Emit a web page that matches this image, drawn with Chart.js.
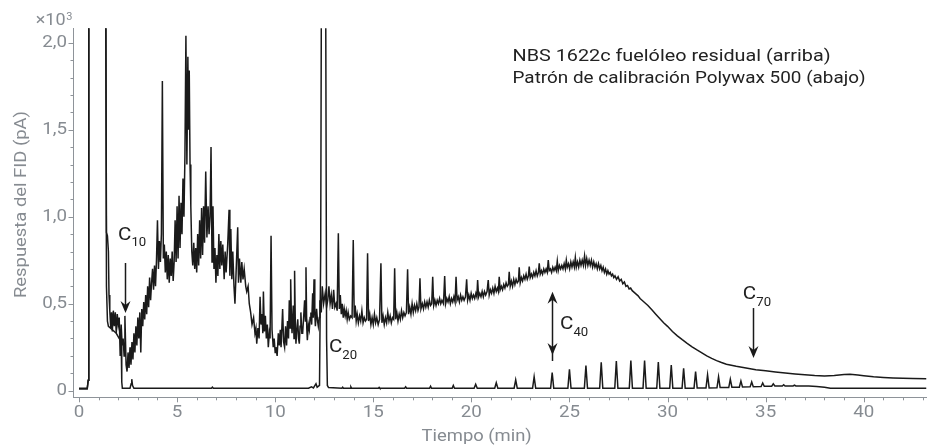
<!DOCTYPE html>
<html>
<head>
<meta charset="utf-8">
<script src="https://cdn.jsdelivr.net/npm/chart.js@4.4.1/dist/chart.umd.min.js"></script>
<style>
  html, body { margin: 0; padding: 0; background: #ffffff; }
  #wrap { width: 930px; height: 448px; position: relative; }
</style>
</head>
<body>
<div id="wrap"><canvas id="c" width="930" height="448"></canvas></div>
<script>
// ---------------- DATA (time in min, response in pA x10^3) ----------------
const xTickValues = [0, 5, 10, 15, 20, 25, 30, 35, 40];
const yTickValues = [0, 0.5, 1.0, 1.5, 2.0];

// Upper trace: NBS 1622c residual fuel oil
const upperSolventAndEarly = [
  [0,0.01],[0.42,0.01],[0.47,0.06],[0.5,2.5],[1.36,2.5],[1.4,0.91],[1.45,0.89],[1.5,0.8],[1.53,0.55],[1.57,0.46],
  [1.62,0.36],[1.66,0.45],[1.7,0.34],[1.75,0.46],[1.8,0.37],[1.85,0.45],[1.9,0.33],[1.95,0.44],[2.0,0.38],[2.05,0.42],
  [2.1,0.2],[2.15,0.38],[2.2,0.26],[2.25,0.3],[2.3,0.2],[2.34,0.43],[2.4,0.15],[2.45,0.11],[2.5,0.22],[2.55,0.13],
  [2.6,0.25],[2.65,0.15],[2.7,0.28],[2.75,0.18],[2.8,0.33],[2.85,0.22],[2.9,0.37],[2.95,0.26],[3.0,0.42],[3.05,0.3],
  [3.1,0.45],[3.15,0.22],[3.2,0.47],[3.25,0.37],[3.3,0.51],[3.35,0.41],[3.4,0.55],[3.45,0.44],[3.5,0.6],[3.55,0.48],
  [3.6,0.65],[3.65,0.52],[3.7,0.62],[3.75,0.7],[3.8,0.58],[3.85,0.72],[3.9,0.6],[3.95,0.75],[4.0,0.98],[4.05,0.7],
  [4.1,0.86],[4.15,0.74],[4.2,0.9]
];
const upperHump1 = [
  [4.25,1.78],[4.3,0.76],[4.35,0.84],[4.4,0.68],[4.45,0.8],[4.5,0.64],[4.55,0.78],[4.6,0.62],[4.65,0.76],[4.7,0.66],
  [4.75,0.8],[4.8,0.63],[4.85,0.74],[4.9,0.98],[4.95,0.74],[5.0,1.06],[5.05,0.76],[5.1,1.12],[5.15,0.82],[5.2,1.08],
  [5.25,0.9],[5.3,1.22],[5.35,1.0],[5.4,1.35],[5.45,2.04],[5.5,1.3],[5.55,1.92],[5.58,1.5],[5.62,1.84],[5.66,1.3],
  [5.7,1.06],[5.75,0.8],[5.8,0.72],[5.85,0.85],[5.9,0.7],[5.95,0.82],[6.0,0.68],[6.05,0.9],[6.1,0.72],[6.15,0.98],
  [6.2,0.76],[6.25,1.05],[6.3,0.78],[6.35,1.06],[6.4,0.85],[6.46,1.26],[6.52,0.88],[6.58,1.06],[6.63,0.9],[6.68,1.0],
  [6.73,1.4],[6.78,0.74],[6.83,1.06],[6.88,0.7],[6.93,0.82],[6.98,0.62],[7.03,0.78],[7.08,0.66],[7.13,0.9],[7.18,0.7],
  [7.23,0.86],[7.28,0.72],[7.33,0.84],[7.4,0.64],[7.45,0.8],[7.5,0.68],[7.58,0.84],[7.65,1.04],[7.69,0.66],[7.74,0.93],
  [7.79,0.64],[7.84,0.8],[7.9,0.6],[7.95,0.5],[8.03,0.75],[8.09,0.94],[8.13,0.62],[8.18,0.76],[8.25,0.62],[8.3,0.74],
  [8.36,0.64],[8.42,0.7],[8.5,0.6]
];
const upperValley = [
  [8.55,0.57],[8.62,0.6],[8.68,0.5],[8.75,0.45],[8.82,0.38],[8.9,0.42],[8.97,0.33],[9.02,0.36],[9.06,0.27],[9.12,0.36],
  [9.18,0.3],[9.23,0.54],[9.28,0.38],[9.33,0.44],[9.37,0.33],[9.4,0.57],[9.45,0.34],[9.5,0.43],[9.55,0.3],[9.6,0.38],
  [9.65,0.25],[9.7,0.33],[9.74,0.3],[9.79,0.89],[9.84,0.35],[9.9,0.25],[9.95,0.3],[10.0,0.22],[10.04,0.25],[10.1,0.2],
  [10.16,0.33],[10.21,0.26],[10.26,0.35],[10.3,0.25],[10.38,0.47],[10.43,0.28],[10.48,0.25],[10.53,0.37],[10.58,0.26],[10.63,0.4],
  [10.68,0.3],[10.72,0.52],[10.76,0.36],[10.79,0.64],[10.83,0.4],[10.86,0.33],[10.92,0.49],[10.96,0.3],[10.99,0.69],[11.03,0.36],
  [11.06,0.27],[11.1,0.35],[11.15,0.41],[11.19,0.3],[11.23,0.27],[11.27,0.37],[11.31,0.45],[11.36,0.33],[11.4,0.33],[11.45,0.42],
  [11.5,0.52],[11.54,0.4],[11.57,0.71],[11.61,0.36],[11.64,0.29],[11.69,0.38],[11.74,0.35],[11.78,0.42],[11.82,0.45],[11.86,0.38],
  [11.91,0.56],[11.94,0.42],[11.98,0.64],[12.02,0.44],[12.05,0.37],[12.11,0.47],[12.16,0.4],[12.2,0.37],[12.25,0.42],[12.28,0.52],
  [12.35,0.45],[12.4,0.6],[12.47,0.5]
];
const upperAlkanes = [
  [12.55,0.56],[12.62,0.48],[12.68,0.52],[12.74,0.6],[12.8,0.5],[12.86,0.55],[12.92,0.47],[12.98,0.58],[13.04,0.48],[13.1,0.5],
  [13.16,0.46],[13.22,0.905],[13.27,0.47],[13.32,0.55],[13.37,0.44],[13.42,0.5],[13.47,0.42],[13.52,0.47],[13.57,0.43],[13.62,0.46],
  [13.67,0.41],[13.72,0.45],[13.78,0.41],[13.85,0.43],[13.92,0.42],[13.98,0.866],[14.03,0.42],[14.08,0.49],[14.13,0.4],[14.18,0.44],
  [14.24,0.39],[14.3,0.43],[14.36,0.4],[14.42,0.46],[14.48,0.39],[14.54,0.42],[14.6,0.4],[14.66,0.41],[14.71,0.79],[14.76,0.4],
  [14.82,0.44],[14.88,0.38],[14.94,0.42],[15.0,0.38],[15.06,0.44],[15.12,0.39],[15.18,0.42],[15.25,0.38],[15.32,0.41],[15.39,0.732],
  [15.44,0.39],[15.5,0.43],[15.56,0.38],[15.62,0.42],[15.68,0.39],[15.74,0.45],[15.8,0.4],[15.86,0.43],[15.92,0.39],[15.98,0.42],
  [16.04,0.41],[16.09,0.703],[16.14,0.41],[16.2,0.45],[16.26,0.4],[16.32,0.44],[16.38,0.41],[16.44,0.46],[16.5,0.42],[16.56,0.45],
  [16.62,0.43],[16.69,0.45],[16.75,0.698],[16.8,0.44],[16.86,0.48],[16.92,0.44],[16.98,0.5],[17.04,0.45],[17.1,0.49],[17.16,0.46],
  [17.22,0.5],[17.28,0.46],[17.33,0.48],[17.38,0.646],[17.43,0.47],[17.5,0.5],[17.56,0.47],[17.62,0.51],[17.68,0.48],[17.74,0.51],
  [17.8,0.48],[17.86,0.52],[17.92,0.49],[17.98,0.5],[18.03,0.655],[18.08,0.49],[18.14,0.52],[18.2,0.49],[18.26,0.52],[18.32,0.5],
  [18.38,0.53],[18.44,0.5],[18.5,0.52],[18.58,0.5],[18.64,0.659],[18.69,0.5],[18.75,0.53],[18.81,0.51],[18.87,0.54],[18.93,0.5],
  [18.99,0.53],[19.05,0.51],[19.11,0.54],[19.17,0.51],[19.22,0.655],[19.27,0.52],[19.33,0.54],[19.39,0.51],[19.45,0.55],[19.51,0.52],
  [19.57,0.54],[19.63,0.52],[19.7,0.54],[19.76,0.64],[19.81,0.52],[19.87,0.55],[19.93,0.52],[19.99,0.56],[20.05,0.53],[20.11,0.55],
  [20.17,0.53],[20.23,0.56],[20.28,0.54],[20.32,0.636],[20.37,0.54],[20.43,0.56],[20.49,0.54],[20.55,0.57],[20.61,0.54],[20.67,0.57],
  [20.73,0.55],[20.8,0.57],[20.86,0.636],[20.91,0.55],[20.97,0.58],[21.03,0.56],[21.09,0.59],[21.15,0.56],[21.21,0.6],[21.27,0.57],
  [21.33,0.59],[21.38,0.57],[21.42,0.655],[21.47,0.58],[21.53,0.6],[21.59,0.58],[21.65,0.61],[21.71,0.59],[21.77,0.62],[21.83,0.6],
  [21.89,0.61],[21.93,0.684],[21.98,0.6],[22.04,0.63],[22.1,0.6],[22.16,0.64],[22.22,0.61],[22.28,0.64],[22.34,0.62],[22.4,0.63],
  [22.44,0.709],[22.49,0.62],[22.55,0.65],[22.61,0.63],[22.67,0.66],[22.73,0.64],[22.79,0.67],[22.85,0.64],[22.91,0.66],[22.95,0.713],
  [23.0,0.65],[23.06,0.67],[23.12,0.65],[23.18,0.68],[23.24,0.66],[23.3,0.69],[23.36,0.66],[23.42,0.68],[23.46,0.732],[23.51,0.67],
  [23.57,0.69],[23.63,0.67],[23.69,0.7],[23.75,0.68],[23.81,0.7],[23.87,0.68],[23.92,0.751]
];
const upperUCM = [
  [23.97,0.69],[24.03,0.7],[24.09,0.68],[24.15,0.71],[24.21,0.69],[24.27,0.71],[24.33,0.69],[24.38,0.745],[24.43,0.69],[24.49,0.72],
  [24.55,0.7],[24.61,0.72],[24.67,0.7],[24.73,0.73],[24.79,0.7],[24.84,0.75],[24.89,0.71],[24.95,0.73],[25.01,0.7],[25.07,0.74],
  [25.13,0.71],[25.19,0.74],[25.25,0.71],[25.3,0.765],[25.35,0.71],[25.41,0.74],[25.47,0.71],[25.53,0.75],[25.59,0.72],[25.65,0.75],
  [25.71,0.72],[25.77,0.775],[25.82,0.72],[25.88,0.76],[25.94,0.72],[26.0,0.75],[26.06,0.72],[26.12,0.75],[26.18,0.71],[26.24,0.74],
  [26.3,0.71],[26.36,0.73],[26.42,0.7],[26.48,0.73],[26.54,0.7],[26.6,0.72],[26.66,0.69],[26.72,0.71],[26.78,0.68],[26.84,0.7],
  [26.9,0.67],[26.96,0.69],[27.02,0.67],[27.08,0.68],[27.14,0.66],[27.2,0.67],[27.26,0.65],[27.32,0.66],[27.4,0.64],[27.48,0.655],
  [27.56,0.63],[27.64,0.64],[27.72,0.615],[27.8,0.625],[27.88,0.6],[27.96,0.605],[28.04,0.585],[28.12,0.59],[28.2,0.575],[28.3,0.565],
  [28.4,0.555],[28.5,0.545],[28.6,0.53],[28.7,0.52],[28.8,0.51],[28.9,0.5],[29.0,0.49],[29.2,0.465],[29.4,0.44],[29.6,0.415],
  [29.8,0.39],[30.0,0.37],[30.25,0.34],[30.5,0.315],[30.75,0.293],[31.0,0.272],[31.25,0.252],[31.5,0.234],[31.75,0.217],[32.0,0.2],
  [32.25,0.186],[32.5,0.173],[32.75,0.162],[33.0,0.152],[33.5,0.14],[34.0,0.13],[34.5,0.121],[35.0,0.114],[35.5,0.108],[36.0,0.102],
  [36.5,0.096],[37.0,0.091],[37.5,0.087],[38.0,0.085],[38.5,0.087],[39.0,0.093],[39.3,0.095],[39.7,0.09],[40.0,0.086],[40.5,0.08],
  [41.0,0.076],[41.5,0.073],[42.0,0.071],[42.5,0.07],[43.2,0.069]
];

// Lower trace: Polywax 500 calibration standard
const lowerSolvent = [
  [0,0.014],[0.42,0.014],[0.47,0.06],[0.5,2.5],[1.36,2.5],[1.4,0.6],[1.45,0.4],[1.5,0.37],[1.7,0.35],[1.9,0.33],
  [2.05,0.3],[2.15,0.29],[2.18,0.05],[2.21,0.014],[2.6,0.014],[2.66,0.04],[2.69,0.066],[2.73,0.03],[2.8,0.014]
];
const lowerLight = [
  [6.75,0.014],[6.8,0.02],[6.85,0.014],[11.7,0.014],[11.85,0.022],[11.95,0.016],[12.08,0.04],[12.14,0.02],[12.26,0.03],[12.32,0.8],
  [12.36,2.5],[12.57,2.5],[12.62,0.3],[12.66,0.03],[12.72,0.018],[13.4,0.014],[13.44,0.02],[13.48,0.014],[13.82,0.014],[13.86,0.022],
  [13.9,0.014],[15.26,0.014],[15.3,0.019],[15.34,0.014],[16.6,0.014],[16.65,0.022],[16.7,0.014],[17.87,0.014],[17.92,0.026],[17.97,0.014],
  [19.02,0.014],[19.08,0.03],[19.14,0.014]
];
const lowerPolywax = [
  [20.14,0.014],[20.22,0.037],[20.3,0.014],[21.19,0.014],[21.27,0.046],[21.35,0.014],[22.18,0.014],[22.26,0.062],[22.34,0.014],
  [23.12,0.014],[23.2,0.08],[23.28,0.014],[24.04,0.014],[24.12,0.104],[24.2,0.014],[24.92,0.014],[25.0,0.123],[25.08,0.014],
  [25.76,0.014],[25.84,0.144],[25.92,0.014],[26.54,0.014],[26.62,0.163],[26.7,0.014],[27.31,0.014],[27.39,0.171],[27.47,0.014],
  [28.05,0.014],[28.13,0.173],[28.21,0.014],[28.75,0.014],[28.83,0.173],[28.91,0.014],[29.45,0.014],[29.53,0.165],[29.61,0.014],
  [30.11,0.014],[30.19,0.148],[30.27,0.014],[30.74,0.014],[30.82,0.129],[30.9,0.014],[31.35,0.014],[31.43,0.11],[31.51,0.016],
  [31.96,0.016],[32.04,0.091],[32.12,0.016],[32.52,0.017],[32.6,0.08],[32.68,0.018],[33.12,0.018],[33.2,0.066],[33.28,0.02],
  [33.66,0.02],[33.74,0.056],[33.82,0.021],[34.21,0.022],[34.29,0.05],[34.37,0.023],[34.77,0.024],[34.85,0.044],[34.93,0.025],
  [35.31,0.026],[35.39,0.039],[35.47,0.027],[35.85,0.027],[35.92,0.034],[35.99,0.027],[36.4,0.027],[36.47,0.032],[36.54,0.027],
  [37.2,0.027],[37.6,0.024],[38.0,0.02],[38.3,0.014],[43.2,0.014]
];

// Annotation labels (carbon numbers) and arrows, in data units
const carbonLabels = [
  { n: '10', x: 1.99, y: 0.895 },
  { n: '20', x: 12.74, y: 0.248 },
  { n: '40', x: 24.52, y: 0.38 },
  { n: '70', x: 33.84, y: 0.553 }
];
const carbonArrows = [
  { x: 2.34, from: 0.734, to: 0.447, both: false },
  { x: 24.12, from: 0.205, to: 0.569, both: true },
  { x: 34.34, from: 0.475, to: 0.188, both: false }
];
const legendLines = [
  'NBS 1622c fuelóleo residual (arriba)',
  'Patrón de calibración Polywax 500 (abajo)'
];
const legendAnchor = { x: 22.1, y: 1.92, y2: 1.79 };
const xTitle = 'Tiempo (min)';
const yTitle = 'Respuesta del FID (pA)';

// ---------------- CHART ----------------
const GREY = '#868b91';
const AXIS = '#8e9399';
const INK = '#1a1a1a';
const FONT = 'Roboto';
const toXY = arr => arr.map(p => ({ x: p[0], y: p[1] }));

const upperAll = [].concat(upperSolventAndEarly, upperHump1, upperValley, upperAlkanes, upperUCM);
const lowerAll = [].concat(lowerSolvent, lowerLight, lowerPolywax);

// draw text horizontally widened (the reference typeface runs wide)
function wideText(ctx, text, x, y, sx, align, rot) {
  ctx.save();
  ctx.translate(x, y);
  if (rot) ctx.rotate(rot);
  ctx.scale(sx, 1);
  ctx.textAlign = align;
  ctx.fillText(text, 0, 0);
  ctx.restore();
}

const axisDecor = {
  id: 'axisDecor',
  afterDraw(chart) {
    const { ctx, chartArea, scales } = chart;
    ctx.save();
    ctx.strokeStyle = AXIS;
    ctx.lineWidth = 1;
    ctx.beginPath();
    for (let t = 0; t <= 43; t++) {
      const px = Math.round(scales.x.getPixelForValue(t)) + 0.5;
      const len = t % 5 === 0 ? 5 : 3;
      ctx.moveTo(px, chartArea.bottom);
      ctx.lineTo(px, chartArea.bottom + len);
    }
    for (let k = 0; k <= 20; k++) {
      const py = Math.round(scales.y.getPixelForValue(k / 10)) + 0.5;
      const len = k % 5 === 0 ? 5 : 3;
      ctx.moveTo(chartArea.left, py);
      ctx.lineTo(chartArea.left - len, py);
    }
    ctx.stroke();

    ctx.fillStyle = GREY;
    ctx.textBaseline = 'middle';
    ctx.font = '16px ' + FONT;
    xTickValues.forEach(v => {
      wideText(ctx, String(v), scales.x.getPixelForValue(v), chartArea.bottom + 16, 1.17, 'center');
    });
    yTickValues.forEach(v => {
      const lab = v === 0 ? '0' : v.toFixed(1).replace('.', ',');
      wideText(ctx, lab, chartArea.left - 6.5, scales.y.getPixelForValue(v), 1.17, 'right');
    });
    // axis titles
    wideText(ctx, xTitle, scales.x.getPixelForValue(20.27), chartArea.bottom + 39.5, 1.15, 'center');
    wideText(ctx, yTitle, 21.7, scales.y.getPixelForValue(1.07), 1.15, 'center', -Math.PI / 2);
    // multiplier
    ctx.textBaseline = 'alphabetic';
    ctx.font = '10px ' + FONT;
    wideText(ctx, '3', chartArea.left - 1, chartArea.top - 8, 1.1, 'right');
    ctx.font = '16px ' + FONT;
    wideText(ctx, '×10', chartArea.left - 8, chartArea.top - 3, 1.12, 'right');
    ctx.restore();
  }
};

const annotations = {
  id: 'annotations',
  afterDatasetsDraw(chart) {
    const { ctx, scales } = chart;
    const X = v => scales.x.getPixelForValue(v);
    const Y = v => scales.y.getPixelForValue(v);
    ctx.save();
    ctx.fillStyle = '#222222';
    ctx.strokeStyle = INK;
    ctx.textBaseline = 'middle';
    // legend text
    ctx.font = '16.5px ' + FONT;
    wideText(ctx, legendLines[0], X(legendAnchor.x), Y(legendAnchor.y), 1.2, 'left');
    wideText(ctx, legendLines[1], X(legendAnchor.x), Y(legendAnchor.y2), 1.145, 'left');
    // carbon labels
    carbonLabels.forEach(l => {
      const x = X(l.x), y = Y(l.y);
      ctx.font = '19px ' + FONT;
      wideText(ctx, 'C', x, y, 1.08, 'left');
      const w = ctx.measureText('C').width * 1.08;
      ctx.font = '12px ' + FONT;
      wideText(ctx, l.n, x + w, y + 8.5, 1.1, 'left');
    });
    // arrows
    const head = (x, yTip, dir) => {
      ctx.beginPath();
      ctx.moveTo(x, yTip);
      ctx.lineTo(x - 5, yTip - dir * 12);
      ctx.lineTo(x, yTip - dir * 8);
      ctx.lineTo(x + 5, yTip - dir * 12);
      ctx.closePath();
      ctx.fill();
    };
    ctx.fillStyle = INK;
    ctx.lineWidth = 1.5;
    carbonArrows.forEach(a => {
      const x = Math.round(X(a.x)) + 0.5;
      const y1 = Y(a.from), y2 = Y(a.to);
      const dir = y2 > y1 ? 1 : -1;
      ctx.beginPath();
      ctx.moveTo(x, y1 + (a.both ? -dir * 6 : 0));
      ctx.lineTo(x, y2 - dir * 6);
      ctx.stroke();
      head(x, y2, dir);
      if (a.both) head(x, y1, -dir);
    });
    ctx.restore();
  }
};

new Chart(document.getElementById('c'), {
  type: 'line',
  data: {
    datasets: [
      { label: 'NBS 1622c', data: toXY(upperAll), borderColor: INK, borderWidth: 1.5, pointRadius: 0, tension: 0, fill: false },
      { label: 'Polywax 500', data: toXY(lowerAll), borderColor: INK, borderWidth: 1.5, pointRadius: 0, tension: 0, fill: false }
    ]
  },
  options: {
    responsive: false,
    animation: false,
    devicePixelRatio: 1,
    layout: { padding: { top: 28.3, right: 3.5, left: 0, bottom: 0 } },
    plugins: { legend: { display: false }, tooltip: { enabled: false } },
    scales: {
      x: {
        type: 'linear', min: -0.28, max: 43.2,
        afterBuildTicks: s => { s.ticks = xTickValues.map(v => ({ value: v })); },
        afterFit: s => { s.height = 50.7; },
        ticks: { display: false },
        grid: { display: false },
        border: { display: true, color: AXIS, width: 1 },
        title: { display: false, text: xTitle }
      },
      y: {
        type: 'linear', min: -0.038, max: 2.083,
        afterBuildTicks: s => { s.ticks = yTickValues.map(v => ({ value: v })); },
        afterFit: s => { s.width = 73.5; },
        ticks: { display: false },
        grid: { display: false },
        border: { display: true, color: AXIS, width: 1 },
        title: { display: false, text: yTitle }
      }
    }
  },
  plugins: [axisDecor, annotations]
});
</script>
</body>
</html>
